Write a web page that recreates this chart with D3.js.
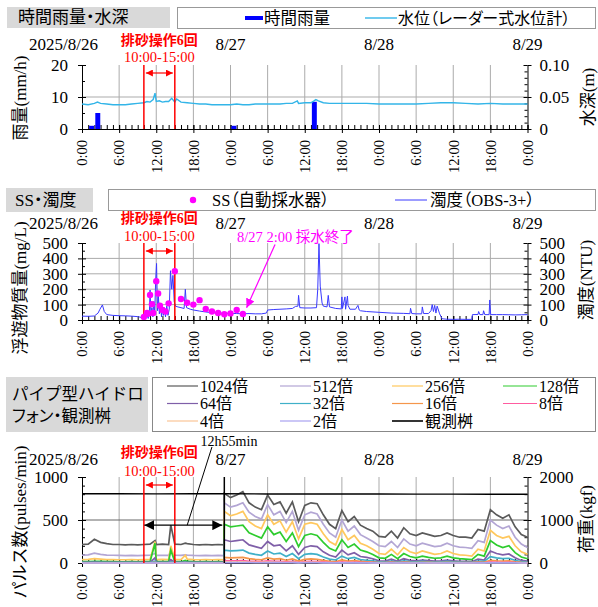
<!DOCTYPE html>
<html><head><meta charset="utf-8">
<script src="https://cdn.jsdelivr.net/npm/d3@7"></script>
<style>
body{margin:0;background:#fff;}
svg text{font-family:"Liberation Serif","Noto Sans CJK JP",serif;}
</style></head>
<body><svg id="c" width="598" height="607"></svg>
<script>
// ---------- data ----------
const xMajor = [0,6,12,18,24,30,36,42,48,54,60,66,72];
const xTickLabels = ["0:00","6:00","12:00","18:00","0:00","6:00","12:00","18:00","0:00","6:00","12:00","18:00","0:00"];
const vGridHours = [6,12,18,24,30,36,42,48,54,60,66];
const dateLabels = ["2025/8/26","8/27","8/28","8/29"];
const dateHours = [0,24,48,72];

// panel 1: hourly rainfall (mm/h) and water depth (m)
const rainT = [2,3,25,38];
const rainV = [1,5,1,8.5];
const waterLevel = [[0,0.039],[1,0.038],[2,0.040],[2.5,0.042],[3,0.040],[4,0.039],[5,0.038],[6,0.038],[7,0.038],[8,0.039],[9,0.040],[10,0.041],[10.5,0.043],[11,0.042],[11.5,0.046],[11.8,0.056],[12,0.043],[12.5,0.044],[13,0.042],[13.5,0.043],[14,0.043],[14.5,0.048],[15,0.042],[15.3,0.047],[16,0.042],[17,0.041],[18,0.040],[19,0.039],[20,0.039],[21,0.038],[22,0.038],[23,0.038],[24,0.038],[25,0.039],[26,0.038],[27,0.038],[28,0.039],[29,0.039],[30,0.039],[31,0.039],[32,0.039],[33,0.040],[34,0.040],[34.8,0.044],[35,0.040],[36,0.041],[37,0.041],[37.5,0.044],[37.8,0.046],[38.2,0.044],[39,0.041],[40,0.040],[41,0.040],[42,0.040],[44,0.040],[46,0.040],[48,0.039],[50,0.039],[52,0.039],[54,0.039],[56,0.040],[58,0.041],[60,0.041],[62,0.040],[64,0.039],[66,0.040],[68,0.039],[70,0.039],[72,0.039]];

// panel 2: SS (mg/L) samples and turbidity (NTU)
const ssT = [10.0,10.5,10.7,11.0,11.3,11.5,12.0,12.3,12.6,13.0,13.5,14.0,15.0,16,17,18,19,20,21,22,23,24,25,26];
const ssV = [20,45,40,162,103,45,252,172,93,65,55,108,317,136,112,100,129,72,55,45,37,43,65,39];
const turbidity = [[0,25],[1,24],[2,26],[2.6,45],[2.9,70],[3.3,98],[3.6,55],[4,35],[5,30],[6,28],[7,27],[8,25],[9,22],[9.8,15],[10.2,20],[10.5,35],[10.7,10],[10.9,60],[11.0,195],[11.15,30],[11.3,80],[11.45,20],[11.6,120],[11.75,40],[11.9,250],[12.05,367],[12.2,60],[12.35,155],[12.5,40],[12.7,100],[12.85,20],[13.0,90],[13.15,30],[13.3,80],[13.5,20],[13.7,90],[13.9,30],[14.1,70],[14.3,320],[14.5,200],[14.7,290],[14.9,120],[15.1,90],[15.5,85],[16,80],[16.5,75],[16.7,200],[16.9,80],[17.5,70],[18,65],[19,58],[20,52],[21,48],[22,45],[23,44],[24,43],[25,42],[26,40],[27,42],[28,40],[29,40],[29.8,45],[30,65],[31,68],[32,70],[33,72],[34,75],[34.5,88],[34.9,90],[35.0,160],[35.2,80],[36,78],[37,78],[37.9,80],[38.1,200],[38.3,496],[38.5,220],[38.8,110],[39,90],[39.6,85],[39.8,160],[40,85],[41,75],[41.9,72],[42.0,150],[42.1,75],[42.5,150],[42.6,70],[42.9,155],[43.0,95],[43.3,70],[44.2,70],[44.6,95],[44.8,65],[45,60],[46,55],[48,50],[50,45],[52,43],[53.0,41],[53.1,76],[53.3,42],[54,40],[54.9,40],[55.0,85],[55.2,42],[56,42],[56.4,60],[56.6,100],[56.8,55],[57.0,95],[57.2,45],[57.4,90],[57.8,40],[58.2,8],[59,5],[60,4],[61,5],[62,4],[63,4],[63.1,35],[64,36],[64.1,55],[64.3,35],[64.8,35],[64.9,60],[65.1,35],[65.8,35],[65.9,130],[66.05,35],[67,35],[68,35],[69,34],[70,33],[71,34],[72,35]];

// panel 3: pipe hydrophone pulses (pulses/min) and load (kgf)
const pT = [0,1,2,3,4,5,6,7,8,9,10,11,11.8,12,13,14,14.35,15,16,16.7,17,18,19,20,21,22,22.95,
  23,24,25,26,27,28,29,30,31,32,33,34,35,36,37,38,39,40,41,42,43,44,45,46,47,48,49,50,51,52,53,54,55,56,57,58,59,60,61,62,63,64,65,66,67,68,69,70,71,72];
const p1024 = [215,220,275,240,225,215,215,210,215,210,215,220,260,215,220,215,440,220,215,230,225,215,210,215,210,215,210,
  810,760,790,830,700,650,620,790,680,710,580,710,480,670,700,690,560,450,400,610,480,540,440,400,370,310,300,370,290,410,340,320,350,330,310,320,350,320,300,300,290,390,370,620,560,520,560,420,330,300];
const p512 = [90,95,115,100,92,90,88,86,88,85,88,90,110,88,90,88,130,90,88,95,92,88,86,88,86,88,86,
  700,650,670,700,590,540,510,680,560,600,470,600,380,560,590,570,450,350,300,500,370,430,330,290,250,200,190,250,180,280,220,200,230,210,190,200,230,200,185,180,170,260,240,500,440,400,430,300,220,180];
const p256 = [40,42,50,45,40,40,38,38,40,38,40,42,250,40,42,40,200,42,40,90,45,40,38,40,38,40,38,
  600,550,570,600,480,430,400,560,450,490,360,480,280,450,470,450,340,250,210,390,270,320,230,200,160,110,100,160,95,180,130,110,140,120,100,110,140,110,95,90,80,160,140,380,320,290,310,200,130,100];
const p128 = [15,16,20,18,15,15,14,14,15,14,15,16,230,15,16,15,150,16,15,30,18,15,14,15,14,15,14,
  450,420,430,440,350,320,290,420,330,360,250,350,190,320,340,320,240,170,140,270,180,220,150,130,100,60,55,100,50,110,75,60,80,65,55,60,80,60,50,45,40,100,80,260,210,180,200,120,70,50];
const p64 = [8,8,10,9,8,8,7,7,8,7,8,8,60,8,8,8,40,8,8,10,9,8,7,8,7,8,7,
  270,250,260,270,210,190,170,250,200,210,140,200,100,180,200,190,130,90,70,150,95,120,75,65,50,25,22,45,20,50,30,25,35,28,22,25,35,25,20,18,15,45,35,140,110,95,105,60,30,22];
const p32 = [4,4,5,5,4,4,4,4,4,4,4,4,20,4,4,4,15,4,4,5,5,4,4,4,4,4,4,
  150,140,145,150,115,100,90,140,105,115,75,110,50,100,110,100,70,45,35,80,50,65,40,32,25,12,10,22,10,25,15,12,18,14,11,12,18,12,10,9,8,22,18,75,60,50,55,30,15,10];
const p16 = [2,2,3,2,2,2,2,2,2,2,2,2,8,2,2,2,6,2,2,3,2,2,2,2,2,2,2,
  65,60,62,65,50,42,38,60,45,50,32,48,22,42,48,42,30,20,15,35,22,28,18,14,11,6,5,10,5,11,7,6,8,7,5,6,8,6,5,4,4,10,8,32,26,22,24,14,7,5];
const p8 = [1,1,1,1,1,1,1,1,1,1,1,1,3,1,1,1,2,1,1,1,1,1,1,1,1,1,1,
  28,25,26,28,20,18,16,25,18,20,13,19,9,17,19,17,12,8,6,14,9,11,7,6,5,3,3,4,2,5,3,3,3,3,2,3,3,3,2,2,2,4,3,13,11,9,10,6,3,2];
const p4 = [1,1,1,1,1,1,1,1,1,1,1,1,2,1,1,1,1,1,1,1,1,1,1,1,1,1,1,
  12,11,11,12,9,8,7,11,8,9,6,8,4,7,8,7,5,4,3,6,4,5,3,3,2,1,1,2,1,2,1,1,2,1,1,1,2,1,1,1,1,2,2,6,5,4,4,3,1,1];
const p2 = [0,0,0,0,0,0,0,0,0,0,0,0,1,0,0,0,0,0,0,0,0,0,0,0,0,0,0,
  5,5,5,5,4,3,3,5,4,4,3,4,2,3,4,3,2,2,1,3,2,2,1,1,1,0,0,1,0,1,0,0,1,0,0,0,1,0,0,0,0,1,1,3,2,2,2,1,0,0];
const loadT = [0,6,12,18,23,30,36,42,48,54,60,66,72];
const loadV = [1610,1612,1608,1610,1612,1606,1604,1606,1604,1602,1602,1600,1600];
const seriesNames = ["1024倍","512倍","256倍","128倍","64倍","32倍","16倍","8倍","4倍","2倍","観測桝"];
const seriesColors = ["#5a5a5a","#b3a6d4","#ffc85e","#2ecc2e","#7f5fa8","#3fb0c8","#f5964b","#ff5ca0","#fbc596","#a9a2f0","#000000"];

// ---------- drawing ----------
const svg = d3.select("#c");
svg.append("rect").attr("width",598).attr("height",607).attr("fill","#fff");
const XL = 82, XR = 527.5;
const x = d3.scaleLinear().domain([0,72]).range([XL,XR]);
const SERIF = '"Liberation Serif","Noto Sans CJK JP",serif';
const JP = '"Noto Sans CJK JP",sans-serif';
const PALT = "'palt' 1";

const defs = svg.append("defs");
function marker(id,color,size){
  defs.append("marker").attr("id",id).attr("viewBox","0 0 10 10").attr("refX",10).attr("refY",5)
    .attr("markerWidth",size).attr("markerHeight",size).attr("markerUnits","userSpaceOnUse")
    .attr("orient","auto-start-reverse")
    .append("path").attr("d","M0,0L10,5L0,10z").attr("fill",color);
}
marker("ar","#ff0000",7); marker("ab","#000",10); marker("am","#ff00ff",9);

function frame(top,bot,yL,yR,o){
  const g = svg.append("g");
  g.selectAll(null).data(vGridHours).enter().append("line")
    .attr("x1",d=>x(d)).attr("x2",d=>x(d)).attr("y1",top).attr("y2",bot)
    .attr("stroke","#ababab").attr("stroke-width",1);
  g.selectAll(null).data(o.hGrid).enter().append("line")
    .attr("x1",XL).attr("x2",XR).attr("y1",d=>yL(d)).attr("y2",d=>yL(d))
    .attr("stroke",o.hGridColor).attr("stroke-width",1);
  // x axis
  const xa = g.append("g").attr("transform",`translate(0,${bot})`)
    .call(d3.axisBottom(x).tickValues(xMajor).tickSize(4).tickSizeOuter(0).tickFormat((d,i)=>xTickLabels[i]));
  xa.attr("font-family",SERIF).attr("font-size",14.5);
  xa.selectAll("text").attr("transform","rotate(-90)").attr("text-anchor","end")
    .attr("x",-11).attr("y",0).attr("dy","0.33em").attr("fill","#000");
  g.append("g").attr("transform",`translate(0,${bot})`)
    .call(d3.axisBottom(x).tickValues(xMajor).tickSize(-4).tickSizeOuter(0).tickFormat(""))
    .select(".domain").remove();
  g.append("g").attr("transform",`translate(0,${bot})`)
    .call(d3.axisBottom(x).tickValues(d3.range(0,73)).tickSize(-4).tickSizeOuter(0).tickFormat(""))
    .select(".domain").remove();
  // left axis
  const la = g.append("g").attr("transform",`translate(${XL},0)`)
    .call(d3.axisLeft(yL).tickValues(o.lMaj).tickSize(4).tickPadding(10).tickSizeOuter(0).tickFormat((d,i)=>o.lLab[i]));
  la.attr("font-family",SERIF).attr("font-size",17);
  la.selectAll("text").attr("fill","#000");
  g.append("g").attr("transform",`translate(${XL},0)`)
    .call(d3.axisLeft(yL).tickValues(o.lMaj).tickSize(-4).tickSizeOuter(0).tickFormat(""))
    .select(".domain").remove();
  g.append("g").attr("transform",`translate(${XL},0)`)
    .call(d3.axisLeft(yL).tickValues(o.lMin).tickSize(-3).tickSizeOuter(0).tickFormat(""))
    .select(".domain").remove();
  // right axis
  const ra = g.append("g").attr("transform",`translate(${XR},0)`)
    .call(d3.axisRight(yR).tickValues(o.rMaj).tickSize(4).tickPadding(8).tickSizeOuter(0).tickFormat((d,i)=>o.rLab[i]));
  ra.attr("font-family",SERIF).attr("font-size",17);
  ra.selectAll("text").attr("fill","#000");
  g.append("g").attr("transform",`translate(${XR},0)`)
    .call(d3.axisRight(yR).tickValues(o.rMaj).tickSize(-4).tickSizeOuter(0).tickFormat(""))
    .select(".domain").remove();
  g.append("g").attr("transform",`translate(${XR},0)`)
    .call(d3.axisRight(yR).tickValues(o.rMin).tickSize(-3).tickSizeOuter(0).tickFormat(""))
    .select(".domain").remove();
  // titles
  g.append("text").attr("transform",`translate(${o.lTx},${o.lTy}) rotate(-90)`)
    .attr("text-anchor","middle").attr("dy","0.35em").attr("font-size",17).text(o.lTitle);
  g.append("text").attr("transform",`translate(${o.rTx},${o.rTy}) rotate(-90)`)
    .attr("text-anchor","middle").attr("dy","0.35em").attr("font-size",17).text(o.rTitle);
  // date labels
  g.selectAll(null).data(dateLabels).enter().append("text")
    .attr("x",(d,i)=>i===0 ? x(dateHours[i])+16 : x(dateHours[i]))
    .attr("y",o.dateY).attr("text-anchor",(d,i)=>i===0?"end":"middle")
    .attr("font-size",17).text(d=>d);
  // red flushing annotation
  g.append("text").attr("x",x(12.5)).attr("y",o.redY1).attr("text-anchor","middle")
    .attr("font-family",JP).attr("font-weight","bold").attr("font-size",14).attr("fill","#ff0000").text("排砂操作6回");
  g.append("text").attr("x",x(12.5)).attr("y",o.redY2).attr("text-anchor","middle")
    .attr("font-size",14.5).attr("fill","#ff0000").text("10:00-15:00");
  return g;
}
function redMarks(top,bot){
  const g = svg.append("g");
  [10,15].forEach(h=>g.append("line").attr("x1",x(h)).attr("x2",x(h)).attr("y1",top).attr("y2",bot)
    .attr("stroke","#ff0000").attr("stroke-width",1.5));
  g.append("line").attr("x1",x(10)+2).attr("x2",x(15)-2).attr("y1",top+8).attr("y2",top+8)
    .attr("stroke","#ff0000").attr("stroke-width",1.2)
    .attr("marker-start","url(#ar)").attr("marker-end","url(#ar)");
}

// ===== Panel 1 =====
const yRain = d3.scaleLinear().domain([0,20]).range([129,65]);
const yWL = d3.scaleLinear().domain([0,0.1]).range([129,65]);
frame(65,129,yRain,yWL,{hGrid:[10],hGridColor:"#ababab",
  lMaj:[0,10,20],lLab:["0","10","20"],lMin:[5,15],
  rMaj:[0,0.05,0.1],rLab:["0","0.05","0.10"],rMin:[0.01,0.02,0.03,0.04,0.06,0.07,0.08,0.09],
  lTitle:"雨量(mm/h)",lTx:20,lTy:98,rTitle:"水深(m)",rTx:588,rTy:97,
  dateY:50,redY1:45,redY2:62});
svg.append("g").selectAll("rect").data(rainT).enter().append("rect")
  .attr("x",d=>x(d-0.85)).attr("width",d=>x(d-0.05)-x(d-0.85))
  .attr("y",(d,i)=>yRain(rainV[i])).attr("height",(d,i)=>yRain(0)-yRain(rainV[i]))
  .attr("fill","#0000ff");
svg.append("path").datum(waterLevel)
  .attr("d",d3.line().x(d=>x(d[0])).y(d=>yWL(d[1])))
  .attr("fill","none").attr("stroke","#33b5e8").attr("stroke-width",1.4);
redMarks(65,129);
// legend 1
svg.append("rect").attr("x",7).attr("y",7).attr("width",163).attr("height",21).attr("fill","#d9d9d9");
svg.append("text").attr("x",18).attr("y",17.5).attr("dy","0.35em").attr("font-family",JP).attr("font-size",17)
  .style("font-feature-settings",PALT).text("時間雨量・水深");
svg.append("rect").attr("x",177.5).attr("y",7.5).attr("width",418).attr("height",21).attr("fill","#fff").attr("stroke","#999");
svg.append("line").attr("x1",245).attr("x2",263).attr("y1",18).attr("y2",18).attr("stroke","#0000ff").attr("stroke-width",4);
svg.append("text").attr("x",264).attr("y",18).attr("dy","0.35em").attr("font-family",JP).attr("font-size",16.5).text("時間雨量");
svg.append("line").attr("x1",365).attr("x2",397).attr("y1",18).attr("y2",18).attr("stroke","#33b5e8").attr("stroke-width",1.4);
svg.append("text").attr("x",398).attr("y",18).attr("dy","0.35em").attr("font-family",JP).attr("font-size",16)
  .style("font-feature-settings",PALT).text("水位（レーダー式水位計）");

// ===== Panel 2 =====
const ySS = d3.scaleLinear().domain([0,500]).range([320,243]);
const yNTU = d3.scaleLinear().domain([0,500]).range([320,243]);
frame(243,320,ySS,yNTU,{hGrid:[100,200,300,400],hGridColor:"#ababab",
  lMaj:[0,100,200,300,400,500],lLab:["0","100","200","300","400","500"],lMin:[50,150,250,350,450],
  rMaj:[0,100,200,300,400,500],rLab:["0","100","200","300","400","500"],rMin:[50,150,250,350,450],
  lTitle:"浮遊物質量(mg/L)",lTx:20,lTy:288,rTitle:"濁度(NTU)",rTx:586,rTy:280,
  dateY:229,redY1:223,redY2:241});
svg.append("path").datum(turbidity)
  .attr("d",d3.line().x(d=>x(d[0])).y(d=>yNTU(d[1])))
  .attr("fill","none").attr("stroke","#3a3aff").attr("stroke-width",1);
redMarks(243,320);
svg.append("g").selectAll("circle").data(ssT).enter().append("circle")
  .attr("cx",d=>x(d)).attr("cy",(d,i)=>ySS(ssV[i])).attr("r",3.2).attr("fill","#ff00ff");
svg.append("line").attr("x1",x(31.2)).attr("y1",ySS(490)).attr("x2",x(26.6)).attr("y2",ySS(80))
  .attr("stroke","#ff00ff").attr("stroke-width",1.2).attr("marker-end","url(#am)");
svg.append("text").attr("x",237).attr("y",241.5).attr("font-size",14.5).attr("fill","#ff00ff").text("8/27 2:00 採水終了");
// legend 2
svg.append("rect").attr("x",6).attr("y",188).attr("width",87).attr("height",24).attr("fill","#d9d9d9");
svg.append("text").attr("x",15).attr("y",200).attr("dy","0.35em").attr("font-size",17)
  .style("font-feature-settings",PALT).text("SS・濁度");
svg.append("rect").attr("x",108.5).attr("y",189.5).attr("width",487).attr("height",21).attr("fill","#fff").attr("stroke","#999");
svg.append("circle").attr("cx",193).attr("cy",200).attr("r",3.2).attr("fill","#ff00ff");
svg.append("text").attr("x",212).attr("y",200).attr("dy","0.35em").attr("font-size",16.5)
  .style("font-feature-settings",PALT).text("SS（自動採水器）");
svg.append("line").attr("x1",395).attr("x2",427).attr("y1",200).attr("y2",200).attr("stroke","#3a3aff").attr("stroke-width",1);
svg.append("text").attr("x",430).attr("y",200).attr("dy","0.35em").attr("font-size",16.5)
  .style("font-feature-settings",PALT).text("濁度（OBS-3+）");

// ===== Panel 3 =====
const yP = d3.scaleLinear().domain([0,1000]).range([563,477]);
const yKg = d3.scaleLinear().domain([0,2000]).range([563,477]);
frame(477,563,yP,yKg,{hGrid:[500],hGridColor:"#666",
  lMaj:[0,500,1000],lLab:["0","500","1000"],lMin:[100,200,300,400,600,700,800,900],
  rMaj:[0,1000,2000],rLab:["0","1000","2000"],rMin:[200,400,600,800,1200,1400,1600,1800],
  lTitle:"パルス数(pulses/min)",lTx:20,lTy:522,rTitle:"荷重(kgf)",rTx:586,rTy:519,
  dateY:465,redY1:457,redY2:476});
const pulseSeries = [p1024,p512,p256,p128,p64,p32,p16,p8,p4,p2];
const pLine = d3.line().x(d=>x(d[0])).y(d=>yP(d[1]));
pulseSeries.forEach((vals,i)=>{
  svg.append("path").datum(pT.map((t,j)=>[t,vals[j]]))
    .attr("d",pLine).attr("fill","none").attr("stroke",seriesColors[i]).attr("stroke-width",1.7);
});
svg.append("path").datum(loadT.map((t,j)=>[t,loadV[j]]))
  .attr("d",d3.line().x(d=>x(d[0])).y(d=>yKg(d[1])))
  .attr("fill","none").attr("stroke","#000").attr("stroke-width",1.4);
redMarks(477,563);
svg.append("line").attr("x1",x(23)).attr("x2",x(23)).attr("y1",477).attr("y2",563).attr("stroke","#000").attr("stroke-width",1.5);
svg.append("line").attr("x1",x(10.08)).attr("x2",x(23)-2).attr("y1",yP(440)).attr("y2",yP(440))
  .attr("stroke","#000").attr("stroke-width",1.2).attr("marker-start","url(#ab)").attr("marker-end","url(#ab)");
svg.append("line").attr("x1",x(21)).attr("y1",447).attr("x2",x(17)).attr("y2",yP(440))
  .attr("stroke","#000").attr("stroke-width",1);
svg.append("text").attr("x",229).attr("y",446).attr("text-anchor","middle").attr("font-size",14).text("12h55min");
// legend 3
svg.append("rect").attr("x",6).attr("y",377).attr("width",142).attr("height",55).attr("fill","#d9d9d9");
svg.append("text").attr("x",12).attr("y",394).attr("dy","0.35em").attr("font-family",JP).attr("font-size",16.5).text("パイプ型ハイドロ");
svg.append("text").attr("x",12).attr("y",416.5).attr("dy","0.35em").attr("font-family",JP).attr("font-size",16.5)
  .style("font-feature-settings",PALT).text("フォン・観測桝");
svg.append("rect").attr("x",152.5).attr("y",377.5).attr("width",443).attr("height",54).attr("fill","#fff").attr("stroke","#888");
const legRows = [386,403.5,421];
const legLines = [[167,198],[280,311],[392,423],[503,537]];
const legTextX = [200,313,425,539];
seriesNames.forEach((n,i)=>{
  const r = Math.floor(i/4), c = i%4;
  svg.append("line").attr("x1",legLines[c][0]).attr("x2",legLines[c][1]).attr("y1",legRows[r]).attr("y2",legRows[r])
    .attr("stroke",seriesColors[i]).attr("stroke-width",i===10?1.6:1.2);
  svg.append("text").attr("x",legTextX[c]).attr("y",legRows[r]).attr("dy","0.35em").attr("font-size",16).text(n);
});
</script></body></html>
